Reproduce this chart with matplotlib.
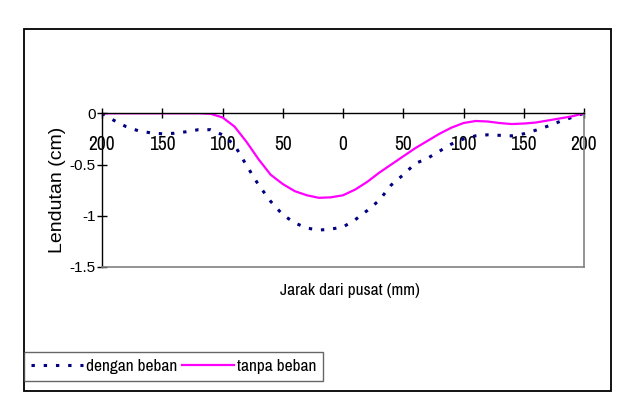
import matplotlib
matplotlib.use("Agg")
import matplotlib.pyplot as plt
from matplotlib.patches import Rectangle

# Data: distance from centre (mm) and deflection (cm)
jarak = list(range(-200, 201, 10))
dengan_beban = [0.0, -0.07, -0.13, -0.17, -0.19, -0.20, -0.195, -0.18, -0.16, -0.16,
                -0.21, -0.31, -0.51, -0.70, -0.86, -0.99, -1.07, -1.12, -1.14, -1.13,
                -1.11, -1.04, -0.95, -0.85, -0.70, -0.60, -0.49, -0.44, -0.37, -0.30,
                -0.25, -0.22, -0.21, -0.215, -0.22, -0.20, -0.165, -0.125, -0.08, -0.04, 0.0]
tanpa_beban = [0.0, 0.0, 0.0, 0.0, 0.0, 0.0, 0.0, 0.0, 0.0, -0.005,
               -0.04, -0.13, -0.28, -0.45, -0.60, -0.69, -0.76, -0.80, -0.825, -0.82,
               -0.80, -0.745, -0.67, -0.58, -0.50, -0.42, -0.34, -0.27, -0.20, -0.14,
               -0.095, -0.075, -0.08, -0.095, -0.105, -0.10, -0.09, -0.07, -0.05, -0.03, 0.0]
x_ticks = [-200, -150, -100, -50, 0, 50, 100, 150, 200]
x_tick_labels = ["200", "150", "100", "50", "0", "50", "100", "150", "200"]
y_ticks = [0, -0.5, -1, -1.5]
y_tick_labels = ["0", "-0.5", "-1", "-1.5"]
series_names = ["dengan beban", "tanpa beban"]

SANS = ["Liberation Sans", "Arimo", "Arial", "DejaVu Sans"]
NARROW = ["Liberation Sans Narrow", "Arial Narrow", "Archivo Narrow", "Liberation Sans",
          "Arimo", "DejaVu Sans"]

W, H = 630, 408
fig = plt.figure(figsize=(W / 100, H / 100), dpi=100)
fig.patch.set_facecolor("white")

ax = fig.add_axes([102 / W, 1 - 267 / H, (584 - 102) / W, (267 - 113.3) / H])

l1, = ax.plot(jarak, dengan_beban, color="#000080", lw=2.2,
              linestyle=(0, (1.1, 2.9)), dash_capstyle="butt", label=series_names[0])
l2, = ax.plot(jarak, tanpa_beban, color="#FF00FF", lw=1.6, label=series_names[1])

ax.set_xlim(-200, 200)
ax.set_ylim(-1.5, 0)

for s in ["right", "bottom"]:
    ax.spines[s].set_color("#808080")
    ax.spines[s].set_linewidth(1.2)
for s in ["left", "top"]:
    ax.spines[s].set_color("black")
    ax.spines[s].set_linewidth(1.0)

ax.set_xticks(x_ticks)
ax.set_xticklabels(x_tick_labels, family=NARROW, fontsize=14)
ax.tick_params(axis="x", bottom=False, labelbottom=False, top=True, labeltop=True,
               direction="inout", length=7, width=1, pad=-33)
ax.set_yticks(y_ticks)
ax.set_yticklabels(y_tick_labels, family=SANS, fontsize=11)
ax.tick_params(axis="y", direction="inout", length=7, width=1, pad=1)

fig.text(57 / W, 1 - 190 / H, "Lendutan (cm)", rotation=90, ha="center", va="center",
         family=SANS, fontsize=14)
fig.text(350 / W, 1 - 290 / H, "Jarak dari pusat (mm)", ha="center", va="center",
         family=NARROW, fontsize=12.5)

fig.patches.append(Rectangle((24 / W, 1 - 391 / H), (611 - 24) / W, (391 - 29) / H,
                             transform=fig.transFigure, fill=False, edgecolor="black",
                             lw=1.3, zorder=0))

leg = fig.legend(handles=[l1, l2], labels=series_names, loc="upper left",
                 bbox_to_anchor=(24 / W, 1 - 352 / H), ncol=2, frameon=True,
                 fancybox=False, borderaxespad=0, borderpad=0.4,
                 handlelength=3.0, handletextpad=0.15, columnspacing=0.3,
                 prop={"family": NARROW, "size": 12.5})
leg.get_frame().set_edgecolor("#404040")
leg.get_frame().set_linewidth(1.0)

fig.savefig("out.png", dpi=100)
